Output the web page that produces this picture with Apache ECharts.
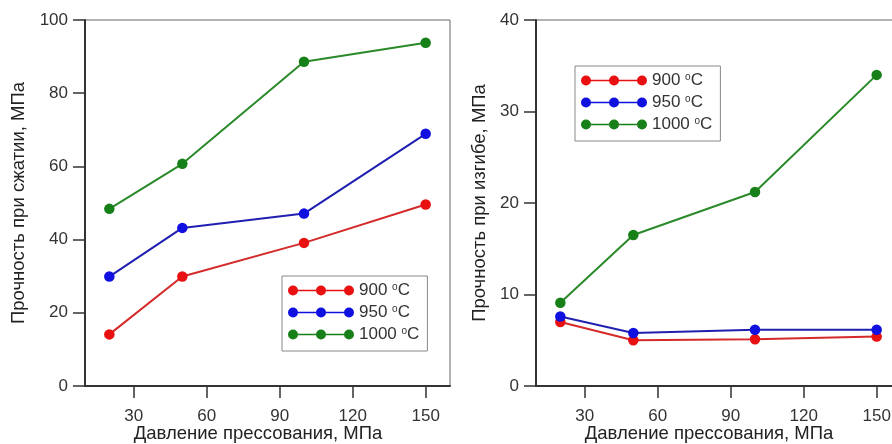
<!DOCTYPE html>
<html>
<head>
<meta charset="utf-8">
<script src="https://cdn.jsdelivr.net/npm/echarts@6/dist/echarts.min.js"></script>
<style>
  html, body { margin: 0; padding: 0; background: #fff; }
  #chart { width: 892px; height: 444px; }
</style>
</head>
<body>
<div id="chart"></div>
<script>
// давление прессования, МПа
const pressure = [20, 50, 100, 150];
const xTicks = [30, 60, 90, 120, 150];
const seriesNames = ["900 °C", "950 °C", "1000 °C"];
const colors = ["#e81010", "#1010e0", "#188018"];
const lineColors = ["#d42a2a", "#2020b0", "#2a8a2a"];

// прочность при сжатии, МПа
const compress900 = [14.1, 29.9, 39.1, 49.6];
const compress950 = [29.9, 43.2, 47.1, 68.9];
const compress1000 = [48.4, 60.7, 88.6, 93.8];

// прочность при изгибе, МПа
const bend900 = [7.0, 5.0, 5.1, 5.4];
const bend950 = [7.6, 5.8, 6.15, 6.15];
const bend1000 = [9.1, 16.5, 21.2, 34.0];

const fontFamily = "Liberation Sans, Arial, sans-serif";

// иконка легенды: линия с тремя точками
const legendIcon =
  "path://M0,5A5,5 0 1,1 10,5A5,5 0 1,1 0,5Z" +
  "M28,5A5,5 0 1,1 38,5A5,5 0 1,1 28,5Z" +
  "M56,5A5,5 0 1,1 66,5A5,5 0 1,1 56,5Z" +
  "M9,4.2L29,4.2L29,5.8L9,5.8Z" +
  "M37,4.2L57,4.2L57,5.8L37,5.8Z";

function makeSeries(name, idx, data, axisIdx) {
  return {
    name: name,
    type: "line",
    xAxisIndex: axisIdx,
    yAxisIndex: axisIdx,
    data: pressure.map((p, i) => [p, data[i]]),
    symbol: "circle",
    symbolSize: 10.5,
    lineStyle: { color: lineColors[idx], width: 2 },
    itemStyle: { color: colors[idx], borderWidth: 0 },
    emphasis: { disabled: true },
    z: 3 + idx,
  };
}

function makeLegend(left, top) {
  return {
    orient: "vertical",
    left: left,
    top: top,
    data: seriesNames,
    icon: legendIcon,
    itemWidth: 66,
    itemHeight: 10,
    itemGap: 5,
    itemTextGap: 7,
    padding: [6, 8, 8, 6],
    backgroundColor: "#fff",
    borderColor: "#888",
    borderWidth: 1,
    selectedMode: false,
    formatter: (name) => name.replace("°", "{s|o}"),
    textStyle: {
      fontFamily: fontFamily,
      fontSize: 17,
      lineHeight: 17,
      color: "#333",
      rich: {
        s: { fontSize: 10, verticalAlign: "top", lineHeight: 17, color: "#333" },
      },
    },
  };
}

function makeXAxis(idx) {
  return {
    type: "value",
    gridIndex: idx,
    min: 10,
    max: 160,
    name: "Давление прессования, МПа",
    nameLocation: "middle",
    nameGap: 38,
    nameMoveOverlap: false,
    nameTextStyle: {
      fontFamily: fontFamily,
      fontSize: 18.5,
      color: "#222",
      padding: [0, 19, 0, 0],
    },
    splitLine: { show: false },
    axisLine: { onZero: false, lineStyle: { color: "#333", width: 2 } },
    axisTick: {
      customValues: xTicks,
      length: 12,
      lineStyle: { color: "#333", width: 1.5 },
    },
    axisLabel: {
      customValues: xTicks,
      margin: 22,
      fontFamily: fontFamily,
      fontSize: 17,
      color: "#333",
    },
  };
}

function makeYAxis(idx, max, interval, name, gap) {
  return {
    type: "value",
    gridIndex: idx,
    min: 0,
    max: max,
    interval: interval,
    name: name,
    nameLocation: "middle",
    nameRotate: 90,
    nameGap: gap,
    nameMoveOverlap: false,
    nameTextStyle: { fontFamily: fontFamily, fontSize: 18.5, color: "#222" },
    splitLine: { show: false },
    axisLine: { show: true, onZero: false, lineStyle: { color: "#333", width: 2 } },
    axisTick: { show: true, length: 12, lineStyle: { color: "#333", width: 1.5 } },
    axisLabel: {
      margin: 17,
      fontFamily: fontFamily,
      fontSize: 17,
      color: "#333",
    },
  };
}

const chart = echarts.init(document.getElementById("chart"));
chart.setOption({
  animation: false,
  backgroundColor: "#fff",
  grid: [
    { left: 85, top: 20, width: 365, height: 366, show: true, borderColor: "#666", borderWidth: 1, outerBoundsMode: "none" },
    { left: 536, top: 20, width: 365, height: 366, show: true, borderColor: "#666", borderWidth: 1, outerBoundsMode: "none" },
  ],
  legend: [makeLegend(282, 276), makeLegend(575, 66)],
  xAxis: [makeXAxis(0), makeXAxis(1)],
  yAxis: [
    makeYAxis(0, 100, 20, "Прочность при сжатии, МПа", 57),
    makeYAxis(1, 40, 10, "Прочность при изгибе, МПа", 47),
  ],
  series: [
    makeSeries(seriesNames[0], 0, compress900, 0),
    makeSeries(seriesNames[1], 1, compress950, 0),
    makeSeries(seriesNames[2], 2, compress1000, 0),
    makeSeries(seriesNames[0], 0, bend900, 1),
    makeSeries(seriesNames[1], 1, bend950, 1),
    makeSeries(seriesNames[2], 2, bend1000, 1),
  ],
});
</script>
</body>
</html>
